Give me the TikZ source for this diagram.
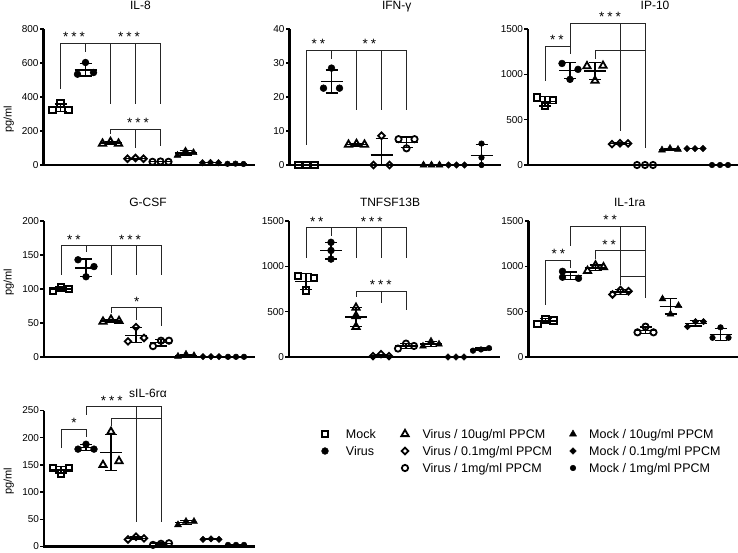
\documentclass[tikz,border=0pt]{standalone}
\usepackage{fontspec}
\setmainfont{Liberation Sans}
\usetikzlibrary{shapes.geometric}
\tikzset{
    axisline/.style={line width=2.6pt},
    tickline/.style={line width=1.4pt},
    errbar/.style={line width=1.4pt},
    brkline/.style={line width=0.9pt,black!85},
    mk/.style={inner sep=0pt,outer sep=0pt,draw=black,line width=1.8pt},
    msq/.style={mk,rectangle,minimum size=6.6pt,fill=white,line width=1.9pt},
    mfc/.style={mk,circle,minimum size=6.8pt,fill=black,line width=0.5pt},
    mot/.style={mk,regular polygon,regular polygon sides=3,minimum size=8.4pt,fill=white},
    mod/.style={mk,diamond,minimum size=6.6pt,fill=white},
    moc/.style={mk,circle,minimum size=6.3pt,fill=white},
    mft/.style={mk,regular polygon,regular polygon sides=3,minimum size=8pt,fill=black,line width=0.5pt},
    mfd/.style={mk,diamond,minimum size=6.4pt,fill=black,line width=0.5pt},
    mfs/.style={mk,circle,minimum size=5.6pt,fill=black,line width=0.5pt},
    ticklbl/.style={font=\fontsize{10}{12}\selectfont,anchor=east,inner sep=0.5pt},
    ttl/.style={font=\fontsize{12}{14}\selectfont,anchor=base,inner sep=0pt},
    ylbl/.style={font=\fontsize{11}{13}\selectfont,rotate=90,inner sep=0pt},
    stars/.style={font=\fontsize{13.5}{15}\selectfont,anchor=base,inner sep=0pt},
    lgd/.style={font=\fontsize{12.5}{15}\selectfont,anchor=base west,inner sep=0pt},
}
% points of one group: style, name, group, offset/value list
\newcommand\pts[4]{\foreach \px/\py [count=\k] in {#4} {\node[#1] (#2-\k) at ({#3+0.32*\px},\py) {};}}
% mean line and SD bar: group, mean, low, high
\newcommand\meansd[4]{\draw[errbar] ({#1-0.44},#2) -- ({#1+0.44},#2)
    ({#1-0.24},#3) -- ({#1+0.24},#3) ({#1-0.24},#4) -- ({#1+0.24},#4) (#1,#3) -- (#1,#4);}
\newcommand\grp[7]{\pts{#1}{#2}{#3}{#4}\meansd{#3}{#5}{#6}{#7}}
% axes: ymax, step, prefix
\newcommand\drawaxes[3]{\draw[axisline] (-0.68,#1) -- (-0.68,0) -- (7.76,0);
    \foreach \v in {0,#2,...,#1} {\draw[tickline] (-0.68,\v) -- (-0.84,\v);
    \node[ticklbl] (#3-t\v) at (-0.85,\v) {\v};}}
\newcommand\sig[4]{\node[stars] (#4) at (#1,{#2+1.6*\upx}) {#3};}
\newcommand\sone{*}
\newcommand\stwo{*\kern3pt*}
\newcommand\sthree{*\kern3pt*\kern3pt*}
\begin{document}
\begin{tikzpicture}[x=1pt,y=-1pt]
\useasboundingbox (0,0) rectangle (738,552);
% titles and axis labels
\node[ttl] (ttl-il8) at (140.5,9.5) {IL-8};
\node[ttl] (ttl-ifn) at (396.7,9.5) {IFN-γ};
\node[ttl] (ttl-ip10) at (655,9.2) {IP-10};
\node[ttl] (ttl-gcsf) at (148,206.5) {G-CSF};
\node[ttl] (ttl-tnf) at (390,206.5) {TNFSF13B};
\node[ttl] (ttl-il1ra) at (629.7,206.5) {IL-1ra};
\node[ttl] (ttl-il6r) at (148,397.3) {sIL-6rα};
\node[ylbl] (ylab1) at (8.7,119) {pg/ml};
\node[ylbl] (ylab2) at (8.7,282) {pg/ml};
\node[ylbl] (ylab3) at (8.7,481) {pg/ml};

% IL-8
\begin{scope}[shift={(60.5,165)},xscale=25,yscale=-0.17]
    \def\upx{5.88}
    \grp{msq}{il8-a}{0}{-1/324,0/363,1/324}{337}{315}{359}
    \grp{mfc}{il8-b}{1}{-1/534,0/603,1/544}{560}{523}{597}
    \grp{mot}{il8-c}{2}{-1/126,0/136,1/126}{129}{123}{135}
    \grp{mod}{il8-d}{3}{-1/37,0/41,1/37}{38}{36}{40}
    \grp{moc}{il8-e}{4}{-1/19,0/21,1/19}{20}{19}{21}
    \grp{mft}{il8-f}{5}{-1/57,0/83,1/73}{71}{58}{84}
    \grp{mfd}{il8-g}{6}{-1/13,0/15,1/13}{14}{13}{15}
    \grp{mfs}{il8-h}{7}{-1/7,0/8,1/6}{7}{6}{8}
    \draw[brkline] (0,450) |- (1,715) -- (1,662);
    \draw[brkline] (1,715) -- (4,715) -- (4,361) (2,715) -- (2,361) (3,715) -- (3,361);
    \draw[brkline] (2,185) |- (4,210) -- (4,112) (3,210) -- (3,98);
    \sig{0.54}{715}{\sthree}{il8-s1}
    \sig{2.74}{715}{\sthree}{il8-s2}
    \sig{3.1}{210}{\sthree}{il8-s3}
    \drawaxes{800}{200}{il8}
\end{scope}

% IFN-gamma
\begin{scope}[shift={(306.5,165)},xscale=25,yscale=-3.4]
    \def\upx{0.294}
    \grp{msq}{ifn-a}{0}{-1/0,0/0,1/0}{0}{0}{0}
    \grp{mfc}{ifn-b}{1}{-1/22.6,0/28.5,1/22.6}{24.6}{21.2}{28}
    \grp{mot}{ifn-c}{2}{-1/6,0/6.2,1/6}{6.1}{6}{6.2}
    \grp{mod}{ifn-d}{3}{-1/0,0/8.6,1/0}{2.9}{0}{7.8}
    \grp{moc}{ifn-e}{4}{-1/7.6,0/4.9,1/7.6}{6.7}{5.2}{8.2}
    \grp{mft}{ifn-f}{5}{-1/0,0/0,1/0}{0}{0}{0}
    \grp{mfd}{ifn-g}{6}{-1/0,0/0,1/0}{0}{0}{0}
    \grp{mfs}{ifn-h}{7}{0/6.3,0/2.2,0/0}{2.8}{0}{6}
    \draw[brkline] (0,5.9) |- (1,33.7) -- (1,31.2);
    \draw[brkline] (1,33.7) -- (4,33.7) -- (4,16.3) (2,33.7) -- (2,16.3) (3,33.7) -- (3,16.3);
    \sig{0.47}{33.7}{\stwo}{ifn-s1}
    \sig{2.51}{33.7}{\stwo}{ifn-s2}
    \drawaxes{40}{10}{ifn}
\end{scope}

% IP-10
\begin{scope}[shift={(545,165)},xscale=25,yscale=-0.090667]
    \def\upx{11.03}
    \grp{msq}{ip-a}{0}{-1/745,0/650,1/715}{703}{652}{754}
    \grp{mfc}{ip-b}{1}{-1/1120,0/945,1/1055}{1040}{952}{1128}
    \grp{mot}{ip-c}{2}{-1/1090,0/930,1/1095}{1038}{944}{1132}
    \grp{mod}{ip-d}{3}{-1/230,0/240,1/238}{236}{231}{241}
    \grp{moc}{ip-e}{4}{-1/0,0/0,1/0}{0}{0}{0}
    \grp{mft}{ip-f}{5}{-1/165,0/182,1/172}{173}{164}{182}
    \grp{mfd}{ip-g}{6}{-1/180,0/180,1/182}{181}{180}{182}
    \grp{mfs}{ip-h}{7}{-1/0,0/0,1/0}{0}{0}{0}
    \draw[brkline] (0,929) |- (1,1308) -- (1,1224);
    \draw[brkline] (1,1316) |- (4,1563) -- (4,192) (3,1563) -- (3,376);
    \draw[brkline] (2,1168) |- (4,1260);
    \sig{0.47}{1308}{\stwo}{ip-s1}
    \sig{2.6}{1563}{\sthree}{ip-s2}
    \drawaxes{1500}{500}{ip}
\end{scope}

% G-CSF
\begin{scope}[shift={(61,357)},xscale=25,yscale=-0.68]
    \def\upx{1.47}
    \grp{msq}{gc-a}{0}{-1/97,0/103,1/100}{100}{97}{103}
    \grp{mfc}{gc-b}{1}{-1/143,0/118,1/133}{131}{118}{144}
    \grp{mot}{gc-c}{2}{-1/52,0/55,1/53}{53}{51.5}{54.5}
    \grp{mod}{gc-d}{3}{-1/23,0/44,1/28}{32}{21}{43}
    \grp{moc}{gc-e}{4}{-1/16,0/24,1/24}{21}{16.4}{25.6}
    \grp{mft}{gc-f}{5}{-1/1,0/4,1/2}{2.3}{0.8}{3.8}
    \grp{mfd}{gc-g}{6}{-1/0.5,0/0.5,1/0.5}{0.5}{0.5}{0.5}
    \grp{mfs}{gc-h}{7}{-1/0.3,0/0.3,1/0.3}{0.3}{0.3}{0.3}
    \draw[brkline] (0,121) |- (1,163.7) -- (1,154);
    \draw[brkline] (1,163.7) -- (4,163.7) -- (4,121) (2,163.7) -- (2,121) (3,163.7) -- (3,121);
    \draw[brkline] (2,64) |- (4,72.6) -- (4,46) (3,72.6) -- (3,55);
    \sig{0.52}{163.7}{\stwo}{gc-s1}
    \sig{2.76}{163.7}{\sthree}{gc-s2}
    \sig{3.03}{72.6}{\sone}{gc-s3}
    \drawaxes{200}{50}{gc}
\end{scope}

% TNFSF13B
\begin{scope}[shift={(306,357)},xscale=25,yscale=-0.090667]
    \def\upx{11.03}
    \grp{msq}{tn-a}{0}{-1/895,0/735,1/870}{833}{747}{919}
    \grp{mfc}{tn-b}{1}{0/1265,0/1175,0/1080}{1173}{1080}{1266}
    \grp{mot}{tn-c}{2}{0/544,0/452,0/333}{443}{337}{549}
    \grp{mod}{tn-d}{3}{-1/10,1/10,0/32}{17}{4}{30}
    \grp{moc}{tn-e}{4}{-1/93,0/148,1/122}{121}{94}{148}
    \grp{mft}{tn-f}{5}{-1/119,0/174,1/141}{145}{117}{173}
    \grp{mfd}{tn-g}{6}{-1/0,0/0,1/0}{0}{0}{0}
    \grp{mfs}{tn-h}{7}{-1/70,0/83,1/98}{84}{70}{98}
    \draw[brkline] (0,1093) |- (1,1426) -- (1,1333);
    \draw[brkline] (1,1426) -- (4,1426) -- (4,1093) (2,1426) -- (2,1093) (3,1426) -- (3,1093);
    \draw[brkline] (2,667) |- (4,722) -- (4,519) (3,722) -- (3,593);
    \sig{0.43}{1426}{\stwo}{tn-s1}
    \sig{2.63}{1426}{\sthree}{tn-s2}
    \sig{2.99}{722}{\sthree}{tn-s3}
    \drawaxes{1500}{500}{tn}
\end{scope}

% IL-1ra
\begin{scope}[shift={(545.5,357)},xscale=25,yscale=-0.090667]
    \def\upx{11.03}
    \grp{msq}{ra-a}{0}{-1/365,0/417,1/402}{395}{368}{422}
    \grp{mfc}{ra-b}{1}{-1/945,-1/880,1/868}{898}{857}{939}
    \grp{mot}{ra-c}{2}{-1/950,0/1010,1/990}{983}{952}{1014}
    \grp{mod}{ra-d}{3}{-1/690,0/740,1/725}{718}{692}{744}
    \grp{moc}{ra-e}{4}{-1/272,0/335,1/272}{293}{257}{329}
    \grp{mft}{ra-f}{5}{-1/640,0/473,1/566}{560}{476}{644}
    \grp{mfd}{ra-g}{6}{-1/335,0/390,1/390}{372}{340}{404}
    \grp{mfs}{ra-h}{7}{-1/212,0/327,1/212}{250}{184}{316}
    \draw[brkline] (0,577) |- (1,1068) -- (1,986);
    \draw[brkline] (1,1228) |- (4,1440) -- (4,651) (3,1440) -- (3,789);
    \draw[brkline] (2,1079) |- (4,1172);
    \draw[brkline] (3,893) -- (4,893);
    \sig{0.51}{1068}{\stwo}{ra-s1}
    \sig{2.58}{1440}{\stwo}{ra-s2}
    \sig{2.54}{1172}{\stwo}{ra-s3}
    \drawaxes{1500}{500}{ra}
\end{scope}

% sIL-6r alpha
\begin{scope}[shift={(61,546.5)},xscale=25,yscale=-0.544]
    \def\upx{1.838}
    \grp{msq}{sr-a}{0}{-1/144,0/134,1/144}{141}{135}{147}
    \grp{mfc}{sr-b}{1}{-1/179,0/188,1/179}{182}{177}{187}
    \grp{mot}{sr-c}{2}{-1/150,0/211,1/157}{173}{140}{206}
    \grp{mod}{sr-d}{3}{-1/13,0/18,1/15}{15}{12.5}{17.5}
    \grp{moc}{sr-e}{4}{-1/3,0/5,1/6}{5}{3.5}{6.5}
    \grp{mft}{sr-f}{5}{-1/40,0/46,1/46}{44}{40.5}{47.5}
    \grp{mfd}{sr-g}{6}{-1/13,0/14,1/13}{13.3}{12.7}{13.9}
    \grp{mfs}{sr-h}{7}{-1/3,0/3,1/3}{3}{3}{3}
    \draw[brkline] (0,181) |- (1,216) -- (1,202);
    \draw[brkline] (1,242) |- (4,257) -- (4,45) (3,257) -- (3,45);
    \draw[brkline] (2,221) |- (4,236);
    \sig{0.52}{216}{\sone}{sr-s1}
    \sig{2.03}{257}{\sthree}{sr-s2}
    \drawaxes{250}{50}{sr}
\end{scope}

% legend
\node[msq] (lg-a) at (325,434) {};
\node[lgd] (lgt-a) at (345.7,438.7) {Mock};
\node[mfc] (lg-b) at (325,451) {};
\node[lgd] (lgt-b) at (345.7,455.7) {Virus};
\node[mot] (lg-c) at (405,434) {};
\node[lgd] (lgt-c) at (422.3,438.7) {Virus / 10ug/ml PPCM};
\node[mod] (lg-d) at (405,451) {};
\node[lgd] (lgt-d) at (422.3,455.7) {Virus / 0.1mg/ml PPCM};
\node[moc] (lg-e) at (405,468) {};
\node[lgd] (lgt-e) at (422.3,472.7) {Virus / 1mg/ml PPCM};
\node[mft] (lg-f) at (573,434) {};
\node[lgd] (lgt-f) at (589,438.7) {Mock / 10ug/ml PPCM};
\node[mfd] (lg-g) at (573,451) {};
\node[lgd] (lgt-g) at (589,455.7) {Mock / 0.1mg/ml PPCM};
\node[mfs] (lg-h) at (573,468) {};
\node[lgd] (lgt-h) at (589,472.7) {Mock / 1mg/ml PPCM};
\end{tikzpicture}
\end{document}
